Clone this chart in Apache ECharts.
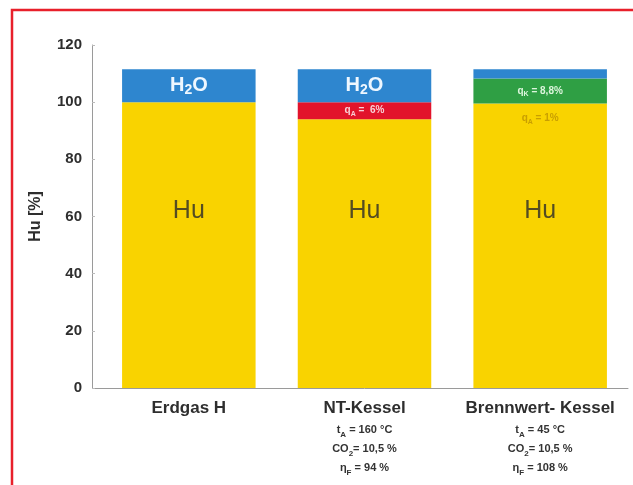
<!DOCTYPE html>
<html>
<head>
<meta charset="utf-8">
<script src="https://cdn.jsdelivr.net/npm/echarts@6/dist/echarts.min.js"></script>
<style>
html,body{margin:0;padding:0;background:#fff;}
#c{width:633px;height:485px;}
</style>
</head>
<body>
<div id="c"></div>
<script>
var categories = ['Erdgas H', 'NT-Kessel', 'Brennwert- Kessel'];
var huValues = [100, 94, 99.5];
var lossValues = [null, 6, null];
var gainValues = [null, null, 8.8];
var waterValues = [11.5, 11.5, 3.2];
var huLabelLevel = [62, 62, 62];
var tempLabels = ['', '160 °C', '45 °C'];
var co2Labels = ['', '10,5 %', '10,5 %'];
var etaLabels = ['', '94 %', '108 %'];
var yMin = 0, yMax = 120, yStep = 20;

var FONT = '"Liberation Sans", Arial, sans-serif';
var chart = echarts.init(document.getElementById('c'));

function catLabel(v, i) {
  var s = '{cat|' + v + '}';
  if (tempLabels[i]) {
    s += '\n{n|t}{s|A}{n| = ' + tempLabels[i] + '}';
    s += '\n{n|CO}{s|2}{n|= ' + co2Labels[i] + '}';
    s += '\n{n|η}{s|F}{n| = ' + etaLabels[i] + '}';
  }
  return s;
}

var huData = huValues.map(function (v, i) {
  if (i === 2) {
    return { value: v, label: { show: true, position: 'insideTop', distance: 8,
      formatter: '{n|q}{s|A}{n| = 1%}',
      rich: {
        n: { fontFamily: FONT, fontWeight: 'bold', fontSize: 10, color: '#c99f00', lineHeight: 14 },
        s: { fontFamily: FONT, fontWeight: 'bold', fontSize: 7, color: '#c99f00', verticalAlign: 'bottom', lineHeight: 14 }
      } } };
  }
  return v;
});

var smallRich = function (col) {
  return {
    n: { fontFamily: FONT, fontWeight: 'bold', fontSize: 10, color: col, lineHeight: 14 },
    s: { fontFamily: FONT, fontWeight: 'bold', fontSize: 7, color: col, verticalAlign: 'bottom', lineHeight: 14 }
  };
};

chart.setOption({
  animation: false,
  backgroundColor: '#ffffff',
  grid: { left: 101, right: 5, top: 45, bottom: 97 },
  xAxis: {
    type: 'category',
    data: categories,
    axisLine: { show: true, lineStyle: { color: '#9a9a9a', width: 1 } },
    axisTick: { show: false },
    axisLabel: {
      margin: 8,
      formatter: catLabel,
      rich: {
        cat: { fontFamily: FONT, fontWeight: 'bold', fontSize: 17, color: '#2e2e2e', lineHeight: 24 },
        n: { fontFamily: FONT, fontWeight: 'bold', fontSize: 11, color: '#333', lineHeight: 19 },
        s: { fontFamily: FONT, fontWeight: 'bold', fontSize: 8, color: '#333', lineHeight: 19, verticalAlign: 'bottom' }
      }
    }
  },
  yAxis: {
    type: 'value',
    min: yMin, max: yMax, interval: yStep,
    offset: 9,
    name: 'Hu [%]',
    nameLocation: 'middle',
    nameGap: 48,
    nameTextStyle: { fontFamily: FONT, fontWeight: 'bold', fontSize: 16, color: '#2e2e2e' },
    axisLine: { show: true, lineStyle: { color: '#9a9a9a', width: 1 } },
    axisTick: { show: true, inside: true, length: 3, lineStyle: { color: '#bbb' } },
    axisLabel: { margin: 10, fontFamily: FONT, fontWeight: 'bold', fontSize: 15, color: '#2e2e2e' },
    splitLine: { show: false }
  },
  series: [
    {
      name: 'Hu', type: 'bar', stack: 'a', barWidth: '76%',
      itemStyle: { color: '#f9d300' },
      data: huData
    },
    {
      name: 'Verlust', type: 'bar', stack: 'a',
      itemStyle: { color: '#e2132b' },
      label: { show: true, position: 'inside', formatter: '{n|q}{s|A}{n| =  6%}', rich: smallRich('#f8d0d6') },
      data: lossValues
    },
    {
      name: 'Gewinn', type: 'bar', stack: 'a',
      itemStyle: { color: '#2f9f44' },
      label: { show: true, position: 'inside', formatter: '{n|q}{s|K}{n| = 8,8%}', rich: smallRich('#dcf5dc') },
      data: gainValues
    },
    {
      name: 'H2O', type: 'bar', stack: 'a',
      itemStyle: { color: '#2e86cf' },
      label: {
        show: true, position: 'inside',
        formatter: function (p) { return p.value > 6 ? '{a|H}{b|2}{a|O}' : ''; },
        rich: {
          a: { fontFamily: FONT, fontWeight: 'bold', fontSize: 20, color: '#eef7ff', lineHeight: 22 },
          b: { fontFamily: FONT, fontWeight: 'bold', fontSize: 14, color: '#eef7ff', lineHeight: 22, verticalAlign: 'bottom' }
        }
      },
      data: waterValues
    },
    {
      name: 'HuLabel', type: 'scatter', symbolSize: 0, silent: true,
      label: { show: true, position: 'inside', formatter: 'Hu',
        fontFamily: FONT, fontSize: 25, color: '#2a2a2a' },
      data: huLabelLevel.map(function (v, i) { return [i, v]; }),
      z: 5
    }
  ],
  graphic: [
    {
      type: 'polyline',
      shape: { points: [[12, 485], [12, 10], [633, 10]] },
      style: { stroke: '#e8202b', lineWidth: 2.5, fill: null },
      silent: true
    },
    {
      type: 'line',
      shape: { x1: 92, y1: 388.5, x2: 101, y2: 388.5 },
      style: { stroke: '#9a9a9a', lineWidth: 1 },
      silent: true
    }
  ]
});
</script>
</body>
</html>
